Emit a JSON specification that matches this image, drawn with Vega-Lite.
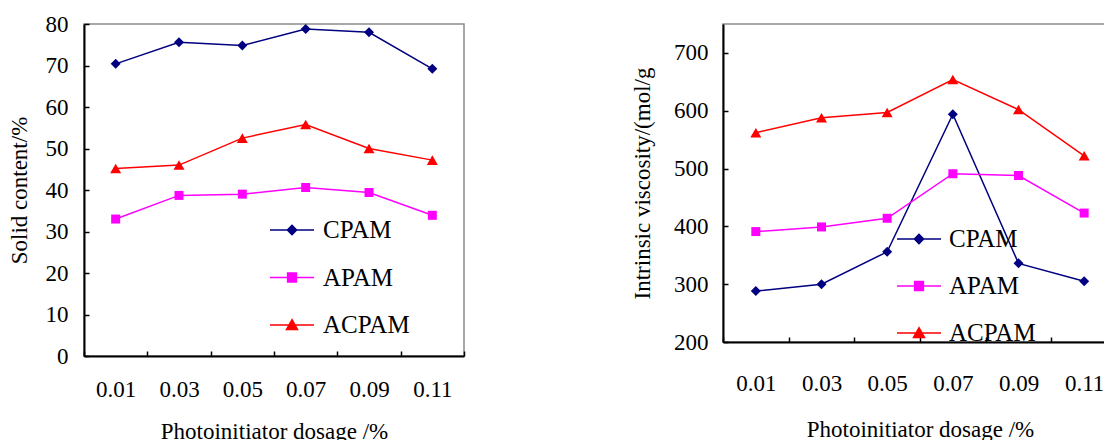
{
  "$schema": "https://vega.github.io/schema/vega-lite/v6.json",
  "padding": {"left": 7, "top": 12, "right": -15, "bottom": 0},
  "background": "white",
  "config": {
    "font": "Liberation Serif",
    "view": {"stroke": "#8c8c8c", "strokeWidth": 1.5},
    "axis": {"domainColor": "black", "domainWidth": 2, "tickColor": "black", "tickWidth": 1.5, "tickSize": -5, "labelFont": "Liberation Serif", "labelFontSize": 23, "labelColor": "black", "titleFont": "Liberation Serif", "titleFontSize": 23, "titleFontWeight": "normal", "titleColor": "black", "grid": false},
    "legend": {"labelFont": "Liberation Serif", "labelColor": "black", "labelFontSize": 25, "padding": 0, "symbolSize": 1936, "symbolStrokeWidth": 1.5, "rowPadding": 11.5}
  },
  "datasets": {
    "solid": [
      {"dosage": "0.01", "polymer": "CPAM", "value": 70.4},
      {"dosage": "0.03", "polymer": "CPAM", "value": 75.6},
      {"dosage": "0.05", "polymer": "CPAM", "value": 74.8},
      {"dosage": "0.07", "polymer": "CPAM", "value": 78.8},
      {"dosage": "0.09", "polymer": "CPAM", "value": 78.0},
      {"dosage": "0.11", "polymer": "CPAM", "value": 69.2},
      {"dosage": "0.01", "polymer": "APAM", "value": 33.0},
      {"dosage": "0.03", "polymer": "APAM", "value": 38.7},
      {"dosage": "0.05", "polymer": "APAM", "value": 39.0},
      {"dosage": "0.07", "polymer": "APAM", "value": 40.6},
      {"dosage": "0.09", "polymer": "APAM", "value": 39.4},
      {"dosage": "0.11", "polymer": "APAM", "value": 33.9},
      {"dosage": "0.01", "polymer": "ACPAM", "value": 45.2},
      {"dosage": "0.03", "polymer": "ACPAM", "value": 46.0},
      {"dosage": "0.05", "polymer": "ACPAM", "value": 52.5},
      {"dosage": "0.07", "polymer": "ACPAM", "value": 55.8},
      {"dosage": "0.09", "polymer": "ACPAM", "value": 50.0},
      {"dosage": "0.11", "polymer": "ACPAM", "value": 47.2}
    ],
    "visc": [
      {"dosage": "0.01", "polymer": "CPAM", "value": 288},
      {"dosage": "0.03", "polymer": "CPAM", "value": 300},
      {"dosage": "0.05", "polymer": "CPAM", "value": 356},
      {"dosage": "0.07", "polymer": "CPAM", "value": 594},
      {"dosage": "0.09", "polymer": "CPAM", "value": 336},
      {"dosage": "0.11", "polymer": "CPAM", "value": 305},
      {"dosage": "0.01", "polymer": "APAM", "value": 391},
      {"dosage": "0.03", "polymer": "APAM", "value": 399},
      {"dosage": "0.05", "polymer": "APAM", "value": 414},
      {"dosage": "0.07", "polymer": "APAM", "value": 491},
      {"dosage": "0.09", "polymer": "APAM", "value": 488},
      {"dosage": "0.11", "polymer": "APAM", "value": 423},
      {"dosage": "0.01", "polymer": "ACPAM", "value": 562},
      {"dosage": "0.03", "polymer": "ACPAM", "value": 588},
      {"dosage": "0.05", "polymer": "ACPAM", "value": 597},
      {"dosage": "0.07", "polymer": "ACPAM", "value": 654},
      {"dosage": "0.09", "polymer": "ACPAM", "value": 602},
      {"dosage": "0.11", "polymer": "ACPAM", "value": 522}
    ]
  },
  "hconcat": [
    {
      "width": 380,
      "height": 332,
      "data": {"name": "solid"},
      "encoding": {
        "x": {"field": "dosage", "type": "ordinal", "sort": ["0.01", "0.03", "0.05", "0.07", "0.09", "0.11"], "scale": {"type": "band", "paddingInner": 0, "paddingOuter": 0}, "axis": {"title": "Photoinitiator dosage /%", "labelAngle": 0, "tickBand": "extent", "labelPadding": 27, "titlePadding": 19}},
        "y": {"field": "value", "type": "quantitative", "scale": {"domain": [0, 80], "nice": false, "zero": false}, "axis": {"values": [0, 10, 20, 30, 40, 50, 60, 70, 80], "title": "Solid content/%", "labelPadding": 21, "titlePadding": 14}},
        "color": {"field": "polymer", "type": "nominal", "scale": {"domain": ["CPAM", "APAM", "ACPAM"], "range": ["#000080", "#FF00FF", "#FF0000"]},
          "legend": {"orient": "none", "legendX": 185, "legendY": 183, "title": null, "labelOffset": 8, "labelFont": "Liberation Serif", "labelFontSize": 25, "symbolSize": 1936, "rowPadding": 11.5,
            "encode": {"symbols": {"update": {
              "shape": {"signal": "datum.value === 'CPAM' ? 'M-1,0H1M0,-0.21L0.21,0L0,0.21L-0.21,0Z' : datum.value === 'APAM' ? 'M-1,0H1M-0.2,-0.2H0.2V0.2H-0.2Z' : 'M-1,0H1M0,-0.24L0.25,0.2L-0.25,0.2Z'"},
              "size": {"value": 1936},
              "strokeWidth": {"value": 1.5},
              "opacity": {"value": 1}
            }}}}}
      },
      "layer": [
        {"mark": {"type": "line", "strokeWidth": 1.5}},
        {"transform": [{"filter": "datum.polymer === 'CPAM'"}], "mark": {"type": "point", "shape": "diamond", "size": 100, "filled": true, "opacity": 1}},
        {"transform": [{"filter": "datum.polymer === 'APAM'"}], "mark": {"type": "point", "shape": "square", "size": 81, "filled": true, "opacity": 1}},
        {"transform": [{"filter": "datum.polymer === 'ACPAM'"}], "mark": {"type": "point", "shape": "triangle-up", "size": 121, "filled": true, "opacity": 1}}
      ]
    },
    {
      "width": 394,
      "height": 318,
      "data": {"name": "visc"},
      "encoding": {
        "x": {"field": "dosage", "type": "ordinal", "sort": ["0.01", "0.03", "0.05", "0.07", "0.09", "0.11"], "scale": {"type": "band", "paddingInner": 0, "paddingOuter": 0}, "axis": {"title": "Photoinitiator dosage /%", "labelAngle": 0, "tickBand": "extent", "labelPadding": 35, "titlePadding": 23}},
        "y": {"field": "value", "type": "quantitative", "scale": {"domain": [200, 750], "nice": false, "zero": false}, "axis": {"values": [200, 300, 400, 500, 600, 700], "title": "Intrinsic viscosity/(mol/g", "labelPadding": 20, "titlePadding": 19}},
        "color": {"field": "polymer", "type": "nominal", "scale": {"domain": ["CPAM", "APAM", "ACPAM"], "range": ["#000080", "#FF00FF", "#FF0000"]},
          "legend": {"orient": "none", "legendX": 173, "legendY": 192, "title": null, "labelOffset": 7, "labelFont": "Liberation Serif", "labelFontSize": 25, "symbolSize": 1936, "rowPadding": 11,
            "encode": {"symbols": {"update": {
              "shape": {"signal": "datum.value === 'CPAM' ? 'M-1,0H1M0,-0.21L0.21,0L0,0.21L-0.21,0Z' : datum.value === 'APAM' ? 'M-1,0H1M-0.2,-0.2H0.2V0.2H-0.2Z' : 'M-1,0H1M0,-0.24L0.25,0.2L-0.25,0.2Z'"},
              "size": {"value": 1936},
              "strokeWidth": {"value": 1.5},
              "opacity": {"value": 1}
            }}}}}
      },
      "layer": [
        {"mark": {"type": "line", "strokeWidth": 1.5}},
        {"transform": [{"filter": "datum.polymer === 'CPAM'"}], "mark": {"type": "point", "shape": "diamond", "size": 100, "filled": true, "opacity": 1}},
        {"transform": [{"filter": "datum.polymer === 'APAM'"}], "mark": {"type": "point", "shape": "square", "size": 81, "filled": true, "opacity": 1}},
        {"transform": [{"filter": "datum.polymer === 'ACPAM'"}], "mark": {"type": "point", "shape": "triangle-up", "size": 121, "filled": true, "opacity": 1}}
      ]
    }
  ],
  "spacing": 164,
  "resolve": {
    "scale": {"color": "independent"},
    "legend": {"color": "independent"}
  }
}
